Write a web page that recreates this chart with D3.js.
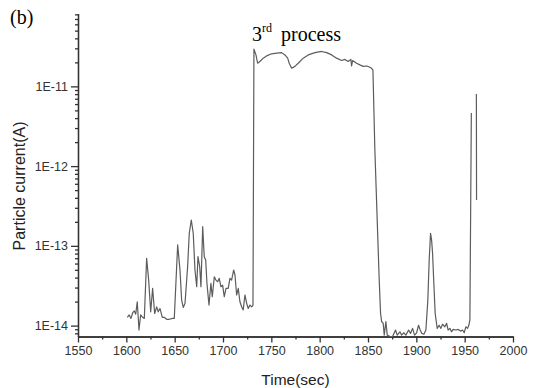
<!DOCTYPE html>
<html>
<head>
<meta charset="utf-8">
<script src="https://cdn.jsdelivr.net/npm/d3@7"></script>
<style>
  body { margin: 0; background: #fff; }
  svg { display: block; }
  .axis path, .axis line { stroke: #333; stroke-width: 1.3; }
  .axis text { font-family: "Liberation Sans", Arial, sans-serif; font-size: 12.5px; fill: #333; }
</style>
</head>
<body>
<svg id="chart" width="534" height="388"></svg>
<script>
// time (sec) and particle current (A); null marks a gap in the record
const times = [
  1601.0, 1603.0, 1604.8, 1606.6, 1608.2, 1609.7, 1611.3, 1613.1, 1614.8, 1616.9,
  1618.6, 1621.0, 1623.1, 1625.2, 1627.2, 1629.3, 1631.4, 1633.0, 1634.8, 1637.2,
  1639.2, 1641.7, 1644.4, 1647.9, 1649.6, 1653.1, 1655.5, 1657.2, 1658.9, 1660.7,
  1663.4, 1665.1, 1667.2, 1669.2, 1671.0, 1672.8, 1674.1, 1675.9, 1677.2, 1679.0,
  1680.6, 1682.1, 1683.4, 1685.5, 1687.5, 1688.9, 1691.0, 1692.7, 1694.5, 1696.1,
  1697.9, 1699.6, 1701.3, 1703.1, 1705.4, 1707.2, 1708.9, 1711.0, 1712.4, 1714.1,
  1715.8, 1717.5, 1719.3, 1720.9, 1722.7, 1724.5, 1726.1, 1727.9, 1729.6, 1731.0,
  1732.0, 1734.1, 1735.8, 1738.2, 1741.6, 1745.1, 1750.3, 1755.5, 1760.7, 1764.1,
  1766.9, 1768.5, 1771.0, 1774.4, 1777.8, 1783.0, 1788.2, 1795.1, 1802.0, 1807.2,
  1812.4, 1817.5, 1822.7, 1826.1, 1829.5, 1832.3, 1833.0, 1834.1, 1838.2, 1841.6,
  1845.0, 1848.9, 1853.0, 1855.1, 1857.1, 1861.6, 1863.0, 1864.1, 1865.7, 1866.8,
  1868.5, 1869.9, 1872.7, 1875.4, 1878.5, 1880.2, 1883.0, 1884.7, 1887.1, 1889.2,
  1892.0, 1894.0, 1896.1, 1898.2, 1900.3, 1902.3, 1904.0, 1905.7, 1907.8, 1909.9,
  1911.9, 1913.3, 1914.7, 1915.8, 1916.8, 1918.1, 1919.5, 1921.6, 1923.6, 1925.4,
  1927.1, 1929.5, 1931.3, 1932.9, 1934.7, 1936.4, 1938.1, 1940.9, 1943.3, 1945.8,
  1947.8, 1949.5, 1951.2, 1953.0, 1954.3, 1955.4, 1956.9, 1959.5, 1962.1, 1962.3
];
const current = [
  1.27e-14, 1.36e-14, 1.23e-14, 1.45e-14, 1.53e-14, 1.39e-14, 1.99e-14, 8.8e-15, 1.36e-14, 1.27e-14,
  1.23e-14, 6.98e-14, 3.72e-14, 1.49e-14, 2.93e-14, 1.42e-14, 1.72e-14, 1.49e-14, 1.64e-14, 1.27e-14,
  1.27e-14, 1.20e-14, 1.20e-14, 1.23e-14, 1.23e-14, 1.03e-13, 4.98e-14, 2.09e-14, 1.69e-14, 1.90e-14,
  5.47e-14, 1.44e-13, 2.11e-13, 1.44e-13, 4.98e-14, 3.07e-14, 7.31e-14, 5.47e-14, 3.07e-14, 1.74e-13,
  7.31e-14, 6.64e-14, 3.39e-14, 1.81e-14, 3.39e-14, 2.30e-14, 4.10e-14, 3.72e-14, 3.55e-14, 3.92e-14,
  3.07e-14, 3.22e-14, 2.30e-14, 2.93e-14, 2.93e-14, 3.92e-14, 3.72e-14, 4.98e-14, 4.31e-14, 2.42e-14,
  2.93e-14, 1.99e-14, 1.72e-14, 1.57e-14, 2.42e-14, 1.90e-14, 1.64e-14, 1.81e-14, 1.72e-14, 1.80e-14,
  2.93e-11, 2.48e-11, 1.95e-11, 2.05e-11, 2.26e-11, 2.41e-11, 2.56e-11, 2.61e-11, 2.65e-11, 2.48e-11,
  2.26e-11, 1.95e-11, 1.69e-11, 1.78e-11, 1.95e-11, 2.26e-11, 2.48e-11, 2.65e-11, 2.74e-11, 2.65e-11,
  2.48e-11, 2.26e-11, 2.11e-11, 2.18e-11, 2.05e-11, 2.18e-11, 1.81e-11, 2.11e-11, 1.95e-11, 1.86e-11,
  1.78e-11, 1.80e-11, 1.71e-11, 1.61e-11, 1.60e-12, 3.72e-14, 1.42e-14, 1.12e-14, 1.07e-14, 7.6e-15,
  1.12e-14, 7.6e-15, 7.3e-15, 7.3e-15, 8.8e-15, 7.6e-15, 8.36e-15, 7.6e-15, 8.13e-15, 7.6e-15,
  8.8e-15, 7.98e-15, 9.23e-15, 7.6e-15, 8.13e-15, 1.01e-14, 8.8e-15, 7.98e-15, 7.8e-15, 8.8e-15,
  2.09e-14, 6.64e-14, 1.44e-13, 1.18e-13, 8.06e-14, 3.39e-14, 1.42e-14, 9.23e-15, 1.01e-14, 9.23e-15,
  1.04e-14, 9.66e-15, 1.07e-14, 8.8e-15, 9.23e-15, 8.36e-15, 8.96e-15, 8.8e-15, 8.96e-15, 8.53e-15,
  8.8e-15, 8.13e-15, 9.66e-15, 9.23e-15, 1.01e-14, 1.17e-14, 4.65e-12, null, 8.05e-12, 3.76e-13
];
const xTicks = [1550, 1600, 1650, 1700, 1750, 1800, 1850, 1900, 1950, 2000];
const yTicks = [1e-14, 1e-13, 1e-12, 1e-11];
const yTickLabels = ["1E-14", "1E-13", "1E-12", "1E-11"];

const svg = d3.select("#chart");
const plotLeft = 78, plotRight = 513, plotTop = 13.5, plotBottom = 336.5;

const x = d3.scaleLinear().domain([1550, 2000]).range([plotLeft, plotRight]);
const y = d3.scaleLog().domain([7.3e-15, 8.2e-11]).range([plotBottom, plotTop]);

// minor ticks
const xMinor = d3.range(1575, 2000, 50);
const yMinor = [];
[-15, -14, -13, -12, -11].forEach(function(e) {
  for (let m = 2; m <= 9; m++) {
    const v = m * Math.pow(10, e);
    if (v >= y.domain()[0] && v <= y.domain()[1]) yMinor.push(v);
  }
});

svg.append("g")
    .attr("class", "axis")
    .attr("transform", "translate(0," + plotBottom + ")")
    .call(d3.axisBottom(x).tickValues(xMinor).tickSize(3).tickFormat("").tickSizeOuter(0));

svg.append("g")
    .attr("class", "axis")
    .attr("transform", "translate(0," + plotBottom + ")")
    .call(d3.axisBottom(x).tickValues(xTicks).tickSize(6).tickPadding(4)
      .tickFormat(d3.format("d")).tickSizeOuter(0));

svg.append("g")
    .attr("class", "axis")
    .attr("transform", "translate(" + plotLeft + ",0)")
    .call(d3.axisLeft(y).tickValues(yMinor).tickSize(3).tickFormat("").tickSizeOuter(0));

svg.append("g")
    .attr("class", "axis")
    .attr("transform", "translate(" + plotLeft + ",0)")
    .call(d3.axisLeft(y).tickValues(yTicks).tickSize(7).tickPadding(3)
      .tickFormat(function(d, i) { return yTickLabels[i]; }).tickSizeOuter(0));

const points = times.map(function(t, i) { return { t: t, v: current[i] }; });

const line = d3.line()
    .defined(function(d) { return d.v !== null; })
    .x(function(d) { return x(d.t); })
    .y(function(d) { return y(d.v); });

svg.append("path")
    .datum(points)
    .attr("fill", "none")
    .attr("stroke", "#5c5c5c")
    .attr("stroke-width", 1.2)
    .attr("stroke-linejoin", "round")
    .attr("d", line);

// labels
svg.append("text")
    .attr("x", 10).attr("y", 24)
    .style("font-family", "'Liberation Serif', 'Times New Roman', serif")
    .style("font-size", "20px")
    .text("(b)");

const proc = svg.append("text")
    .attr("x", 252).attr("y", 41)
    .style("font-family", "'Liberation Serif', 'Times New Roman', serif")
    .style("font-size", "20px");
proc.append("tspan").text("3");
proc.append("tspan").attr("dy", -9).style("font-size", "12px").text("rd");
proc.append("tspan").attr("dy", 9).attr("dx", 9).text("process");

svg.append("text")
    .attr("transform", "translate(25," + 186 + ") rotate(-90)")
    .attr("text-anchor", "middle")
    .style("font-family", "'Liberation Sans', Arial, sans-serif")
    .style("font-size", "16px")
    .style("fill", "#222")
    .text("Particle current(A)");

svg.append("text")
    .attr("x", (plotLeft + plotRight) / 2).attr("y", 385)
    .attr("text-anchor", "middle")
    .style("font-family", "'Liberation Sans', Arial, sans-serif")
    .style("font-size", "15.5px")
    .style("fill", "#222")
    .text("Time(sec)");
</script>
</body>
</html>
